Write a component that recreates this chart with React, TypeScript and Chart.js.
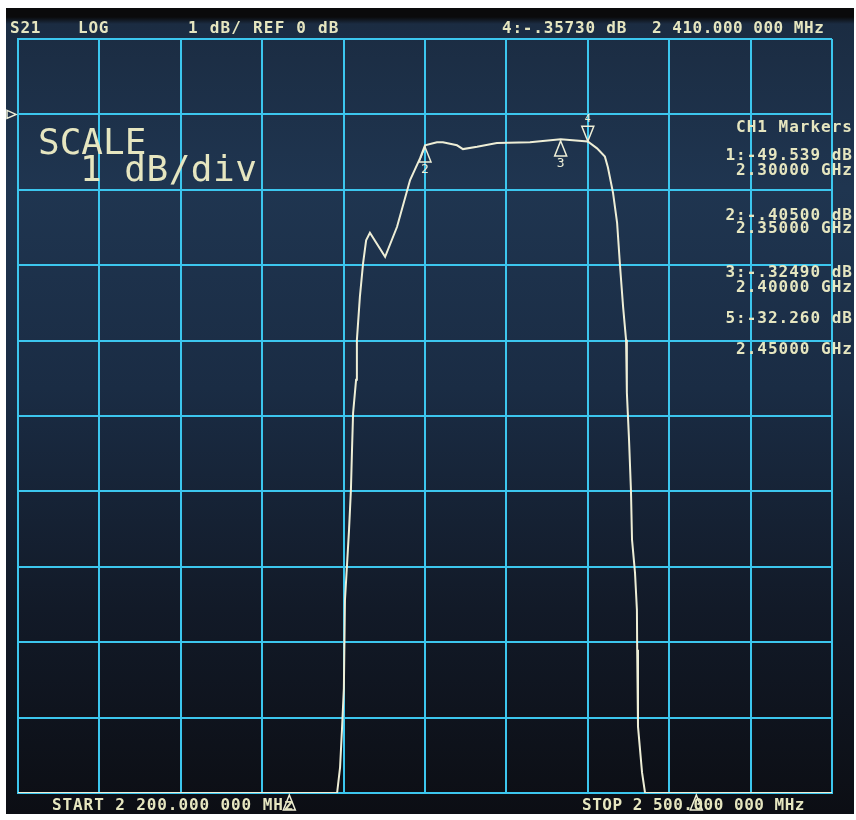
import React, { useEffect, useRef } from "react";
import { Chart, registerables } from "chart.js";

Chart.register(...registerables);

// Frequency (MHz) and S21 (dB, as displayed; off-scale values sit at the -9 dB bottom edge)
const freqMHz = [
  2200, 2317.6, 2318.7, 2319.4, 2320.1, 2320.5, 2321.3, 2322.0, 2322.7, 2323.1,
  2323.5, 2324.6, 2324.9, 2326.0, 2327.2, 2328.3, 2329.7, 2335.3, 2339.7, 2344.5,
  2348.2, 2350.0, 2354.4, 2356.6, 2361.8, 2364.0, 2369.2, 2376.5, 2388.7, 2400.0,
  2410.0, 2413.4, 2416.3, 2417.4, 2419.3, 2420.8, 2421.9, 2423.0, 2424.1, 2424.4,
  2425.2, 2425.9, 2426.3, 2427.4, 2428.1, 2428.2, 2428.5, 2430.0, 2431.1, 2500,
];
const s21dB = [
  -9, -9, -8.66, -8.16, -7.61, -6.44, -5.95, -5.51, -4.98, -4.45,
  -3.96, -3.52, -2.99, -2.42, -1.97, -1.67, -1.57, -1.89, -1.49, -0.87,
  -0.58, -0.41, -0.37, -0.37, -0.41, -0.46, -0.43, -0.38, -0.37, -0.33,
  -0.36, -0.45, -0.56, -0.7, -1.04, -1.44, -2.02, -2.55, -2.99, -3.69,
  -4.32, -4.98, -5.64, -6.08, -6.57, -7.1, -8.12, -8.73, -9, -9,
];

// Markers
const markerIds = ["1", "2", "3", "4", "5"];
const markerFreqMHz = [2300, 2350, 2400, 2410, 2450];
const markerDb = [-49.539, -0.405, -0.3249, -0.3573, -32.26];
const activeMarker = "4";

const Y_MIN = -9;
const Y_MAX = 1;
const X_MIN = 2200;
const X_MAX = 2500;

const headerLeft = ["S21", "LOG", "1 dB/ REF 0 dB"];
const headerRight = ["4:-.35730 dB", "2 410.000 000 MHz"];
const markerPanelTitle = "CH1 Markers";
const markerPanelLines = [
  "1:-49.539 dB", "2.30000 GHz",
  "2:-.40500 dB", "2.35000 GHz",
  "3:-.32490 dB", "2.40000 GHz",
  "5:-32.260 dB", "2.45000 GHz",
];
const startLabel = "START 2 200.000 000 MHz";
const stopLabel = "STOP 2 500.000 000 MHz";

const GRID = "#3cc6ee";
const TRACE = "#eeeed6";
const TEXT = "#e6e6c0";

const markerPlugin = {
  id: "vnaMarkers",
  afterDatasetsDraw(chart: any) {
    const { ctx, scales, chartArea } = chart;
    const xs = scales.x;
    const ys = scales.y;
    ctx.save();
    ctx.strokeStyle = TRACE;
    ctx.fillStyle = TRACE;
    ctx.lineWidth = 1.5;
    // reference level marker
    const ry = ys.getPixelForValue(0);
    ctx.beginPath();
    ctx.moveTo(chartArea.left - 11, ry - 4);
    ctx.lineTo(chartArea.left - 2, ry);
    ctx.lineTo(chartArea.left - 11, ry + 4);
    ctx.closePath();
    ctx.stroke();

    ctx.font = "13px 'DejaVu Sans Mono'";
    ctx.textAlign = "center";
    ctx.textBaseline = "middle";
    markerIds.forEach((id, i) => {
      const v = Math.max(Y_MIN, Math.min(Y_MAX, markerDb[i]));
      const px = xs.getPixelForValue(markerFreqMHz[i]);
      const py = ys.getPixelForValue(v);
      ctx.beginPath();
      if (id === activeMarker) {
        ctx.moveTo(px, py);
        ctx.lineTo(px - 6, py - 15);
        ctx.lineTo(px + 6, py - 15);
        ctx.closePath();
        ctx.stroke();
        ctx.font = "10px 'DejaVu Sans Mono'";
        ctx.fillText(id, px, py - 22);
        ctx.font = "13px 'DejaVu Sans Mono'";
      } else {
        ctx.moveTo(px, py + 2);
        ctx.lineTo(px - 6, py + 17);
        ctx.lineTo(px + 6, py + 17);
        ctx.closePath();
        ctx.stroke();
        if (markerDb[i] >= Y_MIN) ctx.fillText(id, px, py + 25);
      }
    });
    ctx.restore();
  },
};

export default function App() {
  const ref = useRef<HTMLCanvasElement>(null);
  useEffect(() => {
    if (!ref.current) return;
    const chart = new Chart(ref.current, {
      type: "line",
      data: {
        datasets: [
          {
            data: freqMHz.map((f, i) => ({ x: f, y: s21dB[i] })),
            borderColor: TRACE,
            borderWidth: 2,
            pointRadius: 0,
            tension: 0,
            fill: false,
          },
        ],
      },
      options: {
        animation: false,
        responsive: false,
        layout: { padding: { left: 12, top: 31, right: 22, bottom: 21 } },
        plugins: { legend: { display: false }, tooltip: { enabled: false } },
        scales: {
          x: {
            type: "linear",
            min: X_MIN,
            max: X_MAX,
            ticks: { display: false, stepSize: 30 },
            grid: { color: GRID, lineWidth: 2, drawTicks: false },
            border: { display: true, color: GRID, width: 2 },
          },
          y: {
            type: "linear",
            min: Y_MIN,
            max: Y_MAX,
            ticks: { display: false, stepSize: 1 },
            grid: { color: GRID, lineWidth: 2, drawTicks: false },
            border: { display: true, color: GRID, width: 2 },
          },
        },
      },
      plugins: [markerPlugin],
    });
    return () => chart.destroy();
  }, []);

  const mono = "'DejaVu Sans Mono', monospace";
  const t = (text: string, left: number, cy: number, fs = 16, ls = 0.8, bold = true, extra: any = {}) => (
    <div
      style={{
        position: "absolute",
        left,
        top: cy - fs * 0.48,
        fontFamily: mono,
        fontSize: fs,
        lineHeight: `${fs}px`,
        letterSpacing: ls,
        fontWeight: bold ? "bold" : "normal",
        color: TEXT,
        whiteSpace: "pre",
        ...extra,
      }}
    >
      {text}
    </div>
  );
  const r = (text: string, cy: number) => (
    <div
      style={{
        position: "absolute",
        right: 1,
        top: cy - 16 * 0.48,
        fontFamily: mono,
        fontSize: 16,
        lineHeight: "16px",
        letterSpacing: 1.0,
        fontWeight: "bold",
        color: TEXT,
        whiteSpace: "pre",
      }}
    >
      {text}
    </div>
  );

  const panelY = [147, 162, 207, 220, 264, 279, 310, 341];

  return (
    <div
      style={{
        position: "absolute",
        left: 6,
        top: 8,
        width: 848,
        height: 806,
        background:
          "linear-gradient(180deg, #0a0a0b 0px, #0a0a0b 9px, #1b2c42 16px, #1f3550 180px, #1a2c44 380px, #121a28 600px, #0c0e14 806px)",
        overflow: "hidden",
      }}
    >
      <canvas ref={ref} width={848} height={806} style={{ position: "absolute", left: 0, top: 0 }} />
      {t(headerLeft[0], 4, 20)}
      {t(headerLeft[1], 72, 20)}
      {t(headerLeft[2], 182, 20, 16, 1.2)}
      {t(headerRight[0], 496, 20)}
      {t(headerRight[1], 646, 20, 16, 0.5)}
      {r(markerPanelTitle, 119)}
      {markerPanelLines.map((s, i) => <React.Fragment key={i}>{r(s, panelY[i])}</React.Fragment>)}
      {t("SCALE", 32, 133, 36, 0, false)}
      {t("1 dB/div", 74, 160, 36, 0.5, false)}
      {t(startLabel, 46, 797, 16, 0.9)}
      {t(stopLabel, 576, 797, 16, 0.5)}
    </div>
  );
}
